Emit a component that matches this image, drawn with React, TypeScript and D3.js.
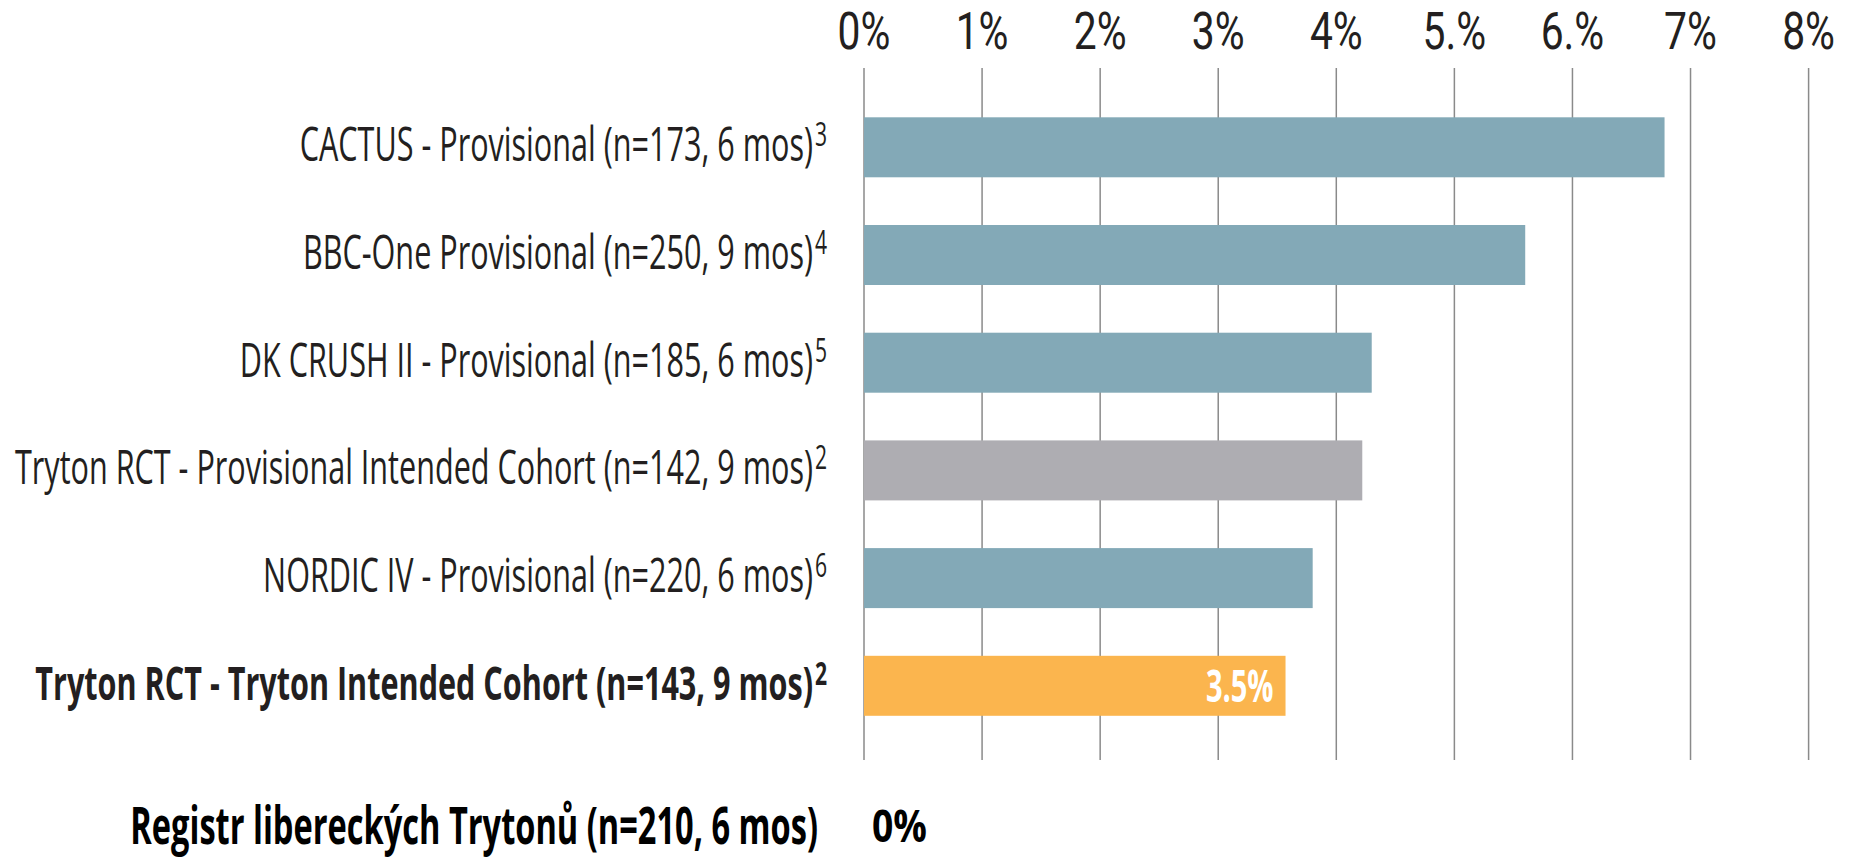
import React from 'react';
import * as d3 from 'd3';

// studies, top to bottom
const studies = [
  'CACTUS - Provisional (n=173, 6 mos)',
  'BBC-One Provisional (n=250, 9 mos)',
  'DK CRUSH II - Provisional (n=185, 6 mos)',
  'Tryton RCT - Provisional Intended Cohort (n=142, 9 mos)',
  'NORDIC IV - Provisional (n=220, 6 mos)',
  'Tryton RCT - Tryton Intended Cohort (n=143, 9 mos)',
];
const refs = ['3', '4', '5', '2', '6', '2'];
const rates = [6.78, 5.6, 4.3, 4.22, 3.8, 3.57];
const groups = ['other', 'other', 'other', 'provisional', 'other', 'tryton'];
const valueLabels = ['', '', '', '', '', '3.5%'];

const tickValues = [0, 1, 2, 3, 4, 5, 6, 7, 8];
const tickLabels = ['0%', '1%', '2%', '3%', '4%', '5.%', '6.%', '7%', '8%'];

const registryLabel = 'Registr libereckých Trytonů (n=210, 6 mos)';
const registryValue = '0%';

const W = 1850;
const H = 862;
const FONT = '"Open Sans", sans-serif';
const TEXT = '#231F20';

const colors: Record<string, string> = {
  other: '#83A9B7',
  provisional: '#AEADB2',
  tryton: '#FBB54E',
};

export default function App() {
  const x = d3.scaleLinear().domain([0, 8]).range([864, 1808.6]);
  const y = d3
    .scaleBand()
    .domain(studies)
    .range([93.45, 739.65])
    .paddingInner(0.443)
    .paddingOuter(0.2215);

  const labelEnd = 813;

  return (
    <svg
      width={W}
      height={H}
      style={{ position: 'absolute', left: 0, top: 0, background: '#fff' }}
      fontFamily={FONT}
    >
      {/* grid */}
      {tickValues.map((t) => (
        <line
          key={'g' + t}
          x1={x(t)}
          x2={x(t)}
          y1={68}
          y2={760}
          stroke="#8a8a8a"
          strokeWidth={1.5}
        />
      ))}

      {/* top axis labels (Roboto: its smaller ascent keeps the box inside the page) */}
      {tickValues.map((t, i) => (
        <text
          key={'t' + t}
          transform={`translate(${x(t)},49) scale(0.8,1)`}
          textAnchor="middle"
          fontFamily="Roboto, sans-serif"
          fontSize={51}
          fill={TEXT}
        >
          {tickLabels[i]}
        </text>
      ))}

      {/* bars */}
      {studies.map((s, i) => (
        <rect
          key={'b' + i}
          x={x(0)}
          y={y(s)}
          width={x(rates[i]) - x(0)}
          height={y.bandwidth()}
          fill={colors[groups[i]]}
        />
      ))}

      {/* value label inside bar */}
      {studies.map((s, i) =>
        valueLabels[i] ? (
          <text
            key={'v' + i}
            transform={`translate(${x(rates[i]) - 12},${(y(s) || 0) + y.bandwidth() / 2 + 16}) scale(0.66,1)`}
            textAnchor="end"
            fontSize={44}
            fontWeight={700}
            fill="#fff"
          >
            {valueLabels[i]}
          </text>
        ) : null
      )}

      {/* category labels */}
      {studies.map((s, i) => {
        const bold = groups[i] === 'tryton';
        const cy = (y(s) || 0) + y.bandwidth() / 2 + 14;
        return (
          <g key={'l' + i}>
            <text
              transform={`translate(${labelEnd},${cy}) scale(0.651,1)`}
              textAnchor="end"
              fontSize={47}
              fontWeight={bold ? 700 : 400}
              fill={TEXT}
            >
              {s}
            </text>
            <text
              transform={`translate(${labelEnd + 2},${cy - 15}) scale(0.66,1)`}
              textAnchor="start"
              fontSize={32}
              fontWeight={bold ? 700 : 400}
              fill={TEXT}
            >
              {refs[i]}
            </text>
          </g>
        );
      })}

      {/* registry row below the chart */}
      <text
        transform={`translate(818,844) scale(0.627,1)`}
        textAnchor="end"
        fontSize={52}
        fontWeight={700}
        fill="#000"
      >
        {registryLabel}
      </text>
      <text
        transform={`translate(872,842) scale(0.83,1)`}
        textAnchor="start"
        fontSize={45}
        fontWeight={700}
        fill="#000"
      >
        {registryValue}
      </text>
    </svg>
  );
}
